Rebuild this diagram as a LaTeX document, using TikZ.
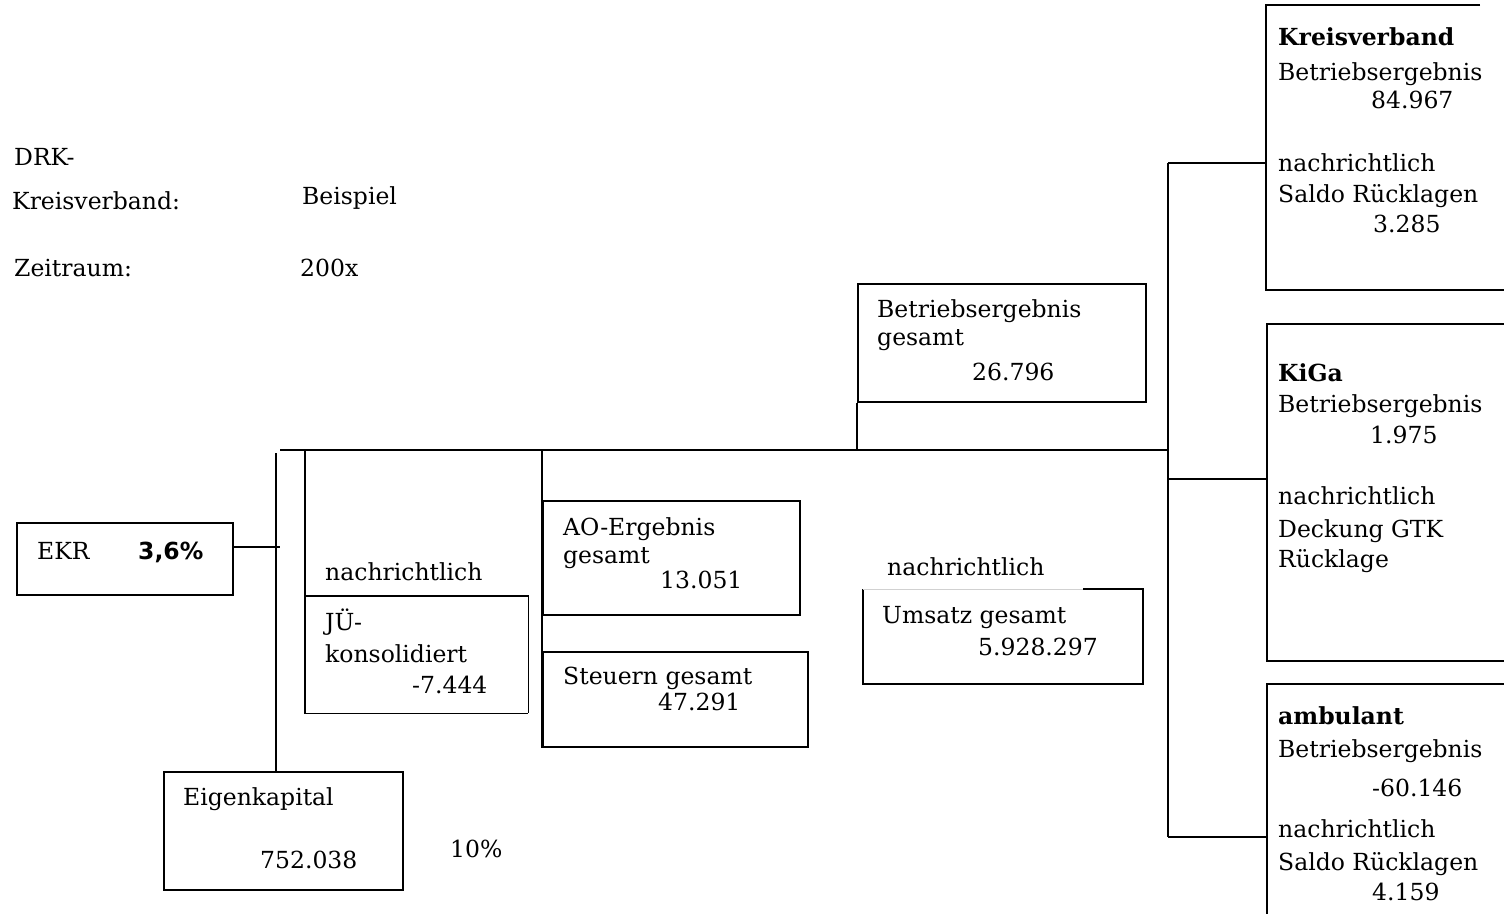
\documentclass[tikz,border=0pt]{standalone}
\usepackage{fontspec}
\setmainfont{DejaVu Serif}
\newfontfamily\pctfont{DejaVu Sans}
\begin{document}
\begin{tikzpicture}[x=1pt,y=-1pt,
  frame/.style={draw,line width=1.8pt,inner sep=0pt,anchor=north west},
  wire/.style={line width=1.8pt},
  lbl/.style={anchor=base west,inner sep=0pt,font=\fontsize{23.5}{28}\selectfont},
  hdr/.style={lbl,font=\bfseries\fontsize{23.5}{28}\selectfont}]
\useasboundingbox (0,0) rectangle (1504,913);

% header
\node[lbl] (drk) at (14,165) {DRK-};
\node[lbl] (kv) at (12,209) {Kreisverband:};
\node[lbl] (kvname) at (302,204) {Beispiel};
\node[lbl] (zr) at (14,276) {Zeitraum:};
\node[lbl] (zrval) at (300,276) {200x};

% EKR
\node[frame,minimum width=216pt,minimum height=72pt] (ekr) at (16,522) {};
\node[lbl] (ekrt) at (37,559) {EKR};
\node[lbl,font=\pctfont\bfseries\fontsize{23.5}{28}\selectfont] (ekrv) at (138,559) {3,6\%};

% Eigenkapital
\node[frame,minimum width=239pt,minimum height=118pt] (ek) at (163,771) {};
\node[lbl] (ekt) at (183,805) {Eigenkapital};
\node[lbl] (ekv) at (260,868) {752.038};
\node[lbl] (ekp) at (450,857) {10\%};

% JÜ konsolidiert
\node[lbl] (nach1) at (325,580) {nachrichtlich};
\node[inner sep=0pt,anchor=north west,minimum width=223pt,minimum height=117pt] (ju) at (305,596) {};
\draw[wire] (ju.north west) -- (ju.south west) -- (ju.south east);
\draw[line width=1.2pt] (ju.north west) -- (ju.north east) -- (ju.south east);
\node[lbl] (jut1) at (325,630) {JÜ-};
\node[lbl] (jut2) at (325,662) {konsolidiert};
\node[lbl] (juv) at (412,693) {-7.444};

% AO / Steuern
\node[frame,minimum width=257pt,minimum height=114pt] (ao) at (542,500) {};
\node[lbl] (aot1) at (563,535) {AO-Ergebnis};
\node[lbl] (aot2) at (563,563) {gesamt};
\node[lbl] (aov) at (660,588) {13.051};
\node[frame,minimum width=265pt,minimum height=95pt] (st) at (542,651) {};
\node[lbl] (stt) at (563,684) {Steuern gesamt};
\node[lbl] (stv) at (658,710) {47.291};

% Betriebsergebnis gesamt
\node[frame,minimum width=288pt,minimum height=118pt] (beg) at (857,283) {};
\node[lbl] (begt1) at (877,317) {Betriebsergebnis};
\node[lbl] (begt2) at (877,345) {gesamt};
\node[lbl] (begv) at (972,380) {26.796};

% Umsatz
\node[lbl] (nach2) at (887,575) {nachrichtlich};
\coordinate (umA) at (863,589);
\coordinate (umB) at (1083,589);
\coordinate (umC) at (1143,589);
\coordinate (umD) at (1143,684);
\coordinate (umE) at (863,684);
\draw[wire] (umB) -- (umC) -- (umD) -- (umE) -- (umA);
\draw[line width=1pt,black!18] (umA) -- (umB);
\node[lbl] (umt) at (882,623) {Umsatz gesamt};
\node[lbl] (umv) at (978,655) {5.928.297};

% right boxes
\coordinate (kvA) at (1480,5);
\coordinate (kvB) at (1266,5);
\coordinate (kvC) at (1266,290);
\coordinate (kvD) at (1510,290);
\draw[wire] (kvA) -- (kvB) -- (kvC) -- (kvD);
\node[hdr] (kvt) at (1278,45) {Kreisverband};
\node[lbl] (kvb) at (1278,80) {Betriebsergebnis};
\node[lbl] (kvbv) at (1371,108) {84.967};
\node[lbl] (kvn) at (1278,171) {nachrichtlich};
\node[lbl] (kvs) at (1278,202) {Saldo Rücklagen};
\node[lbl] (kvsv) at (1373,232) {3.285};

\node[frame,minimum width=250pt,minimum height=337pt] (kiga) at (1266,323) {};
\node[hdr] (kgt) at (1278,381) {KiGa};
\node[lbl] (kgb) at (1278,412) {Betriebsergebnis};
\node[lbl] (kgbv) at (1370,443) {1.975};
\node[lbl] (kgn) at (1278,504) {nachrichtlich};
\node[lbl] (kgd) at (1278,537) {Deckung GTK};
\node[lbl] (kgr) at (1278,567) {Rücklage};

\node[frame,minimum width=250pt,minimum height=260pt] (amb) at (1266,683) {};
\node[hdr] (amt) at (1278,724) {ambulant};
\node[lbl] (amb1) at (1278,757) {Betriebsergebnis};
\node[lbl] (ambv) at (1372,796) {-60.146};
\node[lbl] (amn) at (1278,837) {nachrichtlich};
\node[lbl] (ams) at (1278,870) {Saldo Rücklagen};
\node[lbl] (amsv) at (1372,900) {4.159};

% connectors
\coordinate (busL) at (280,450);
\coordinate (busR) at (1168,450);
\coordinate (ekrJ) at (280,547);
\coordinate (ekTop) at (276,453);
\coordinate (juTop) at (305,450);
\coordinate (aoTop) at (542,450);
\coordinate (aoBot) at (542,748);
\coordinate (begJ) at (857,450);
\coordinate (rTop) at (1168,163);
\coordinate (rBot) at (1168,837);
\coordinate (kgJ) at (1168,479);
\draw[wire] (busL) -- (busR);
\draw[wire] (ekr.east |- ekrJ) -- (ekrJ);
\draw[wire] (ekTop) -- (ek.north -| ekTop);
\draw[wire] (juTop) -- (ju.north west);
\draw[wire] (aoTop) -- (aoBot);
\draw[wire] (beg.south west) -- (begJ);
\draw[wire] (rTop) -- (rBot);
\draw[wire] (rTop) -- (kvB |- rTop);
\draw[wire] (kgJ) -- (kiga.west |- kgJ);
\draw[wire] (rBot) -- (amb.west |- rBot);
\end{tikzpicture}
\end{document}
